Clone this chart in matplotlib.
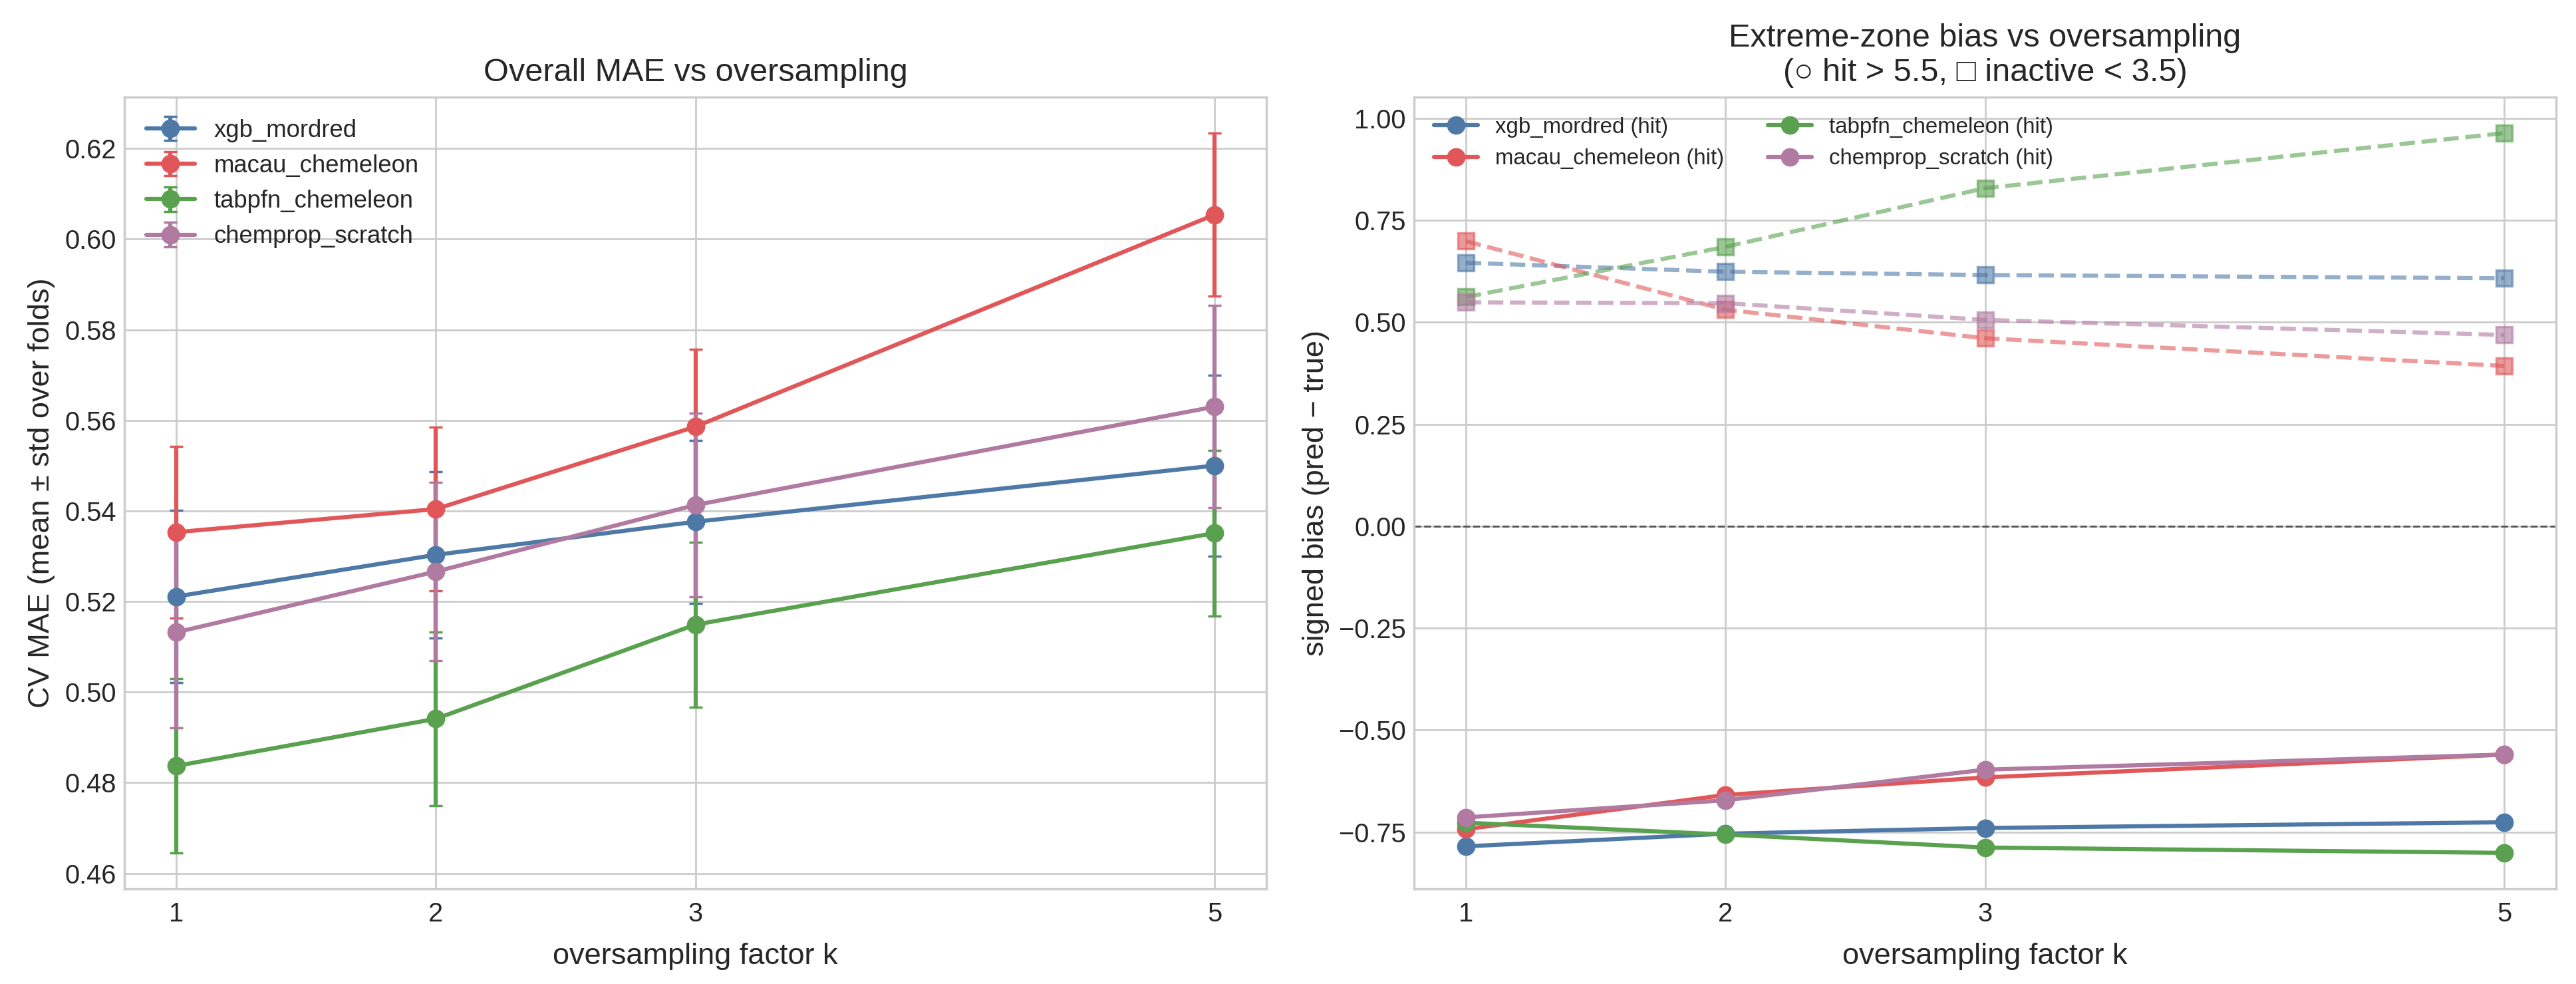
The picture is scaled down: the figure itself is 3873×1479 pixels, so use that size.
import matplotlib
matplotlib.use("Agg")
import matplotlib.pyplot as plt

plt.style.use("seaborn-v0_8-whitegrid")
plt.rcParams['font.family'] = ['Liberation Sans', 'DejaVu Sans']
plt.rcParams['xtick.major.pad'] = plt.rcParams['xtick.major.pad'] + 2

k_values = [1, 2, 3, 5]
models = ["xgb_mordred", "macau_chemeleon", "tabpfn_chemeleon", "chemprop_scratch"]
colors = ["#4E79A7", "#E15759", "#59A14F", "#B07AA1"]

mae_mean = {
    "xgb_mordred":      [0.5211, 0.5303, 0.5376, 0.5500],
    "macau_chemeleon":  [0.5353, 0.5404, 0.5586, 0.6054],
    "tabpfn_chemeleon": [0.4837, 0.4941, 0.5149, 0.5351],
    "chemprop_scratch": [0.5132, 0.5266, 0.5413, 0.5630],
}
mae_std = {
    "xgb_mordred":      [0.0190, 0.0183, 0.0180, 0.0200],
    "macau_chemeleon":  [0.0189, 0.0181, 0.0170, 0.0180],
    "tabpfn_chemeleon": [0.0192, 0.0192, 0.0182, 0.0183],
    "chemprop_scratch": [0.0211, 0.0197, 0.0202, 0.0223],
}
bias_hit = {
    "xgb_mordred":      [-0.785, -0.754, -0.740, -0.726],
    "macau_chemeleon":  [-0.743, -0.659, -0.616, -0.560],
    "tabpfn_chemeleon": [-0.727, -0.756, -0.788, -0.801],
    "chemprop_scratch": [-0.714, -0.672, -0.597, -0.560],
}
bias_inactive = {
    "xgb_mordred":      [0.646, 0.624, 0.616, 0.608],
    "macau_chemeleon":  [0.699, 0.531, 0.461, 0.393],
    "tabpfn_chemeleon": [0.562, 0.685, 0.829, 0.964],
    "chemprop_scratch": [0.549, 0.547, 0.506, 0.469],
}

fig, (ax1, ax2) = plt.subplots(1, 2, figsize=(15.492, 5.916), dpi=250)
fig.subplots_adjust(left=0.0483, right=0.9923, bottom=0.0967, top=0.9013, wspace=0.129)

for m, c in zip(models, colors):
    ax1.errorbar(k_values, mae_mean[m], yerr=mae_std[m], marker='o', color=c,
                 capsize=3, lw=1.8, ms=7, label=m)
ax1.set_xticks(k_values)
ax1.set_xlabel("oversampling factor k", fontsize=13, labelpad=7)
ax1.set_ylabel("CV MAE (mean ± std over folds)", fontsize=13)
ax1.set_title("Overall MAE vs oversampling", fontsize=14, pad=7)
ax1.legend(loc='upper left', fontsize=10.5)
ax1.tick_params(labelsize=11.5)

for m, c in zip(models, colors):
    ax2.plot(k_values, bias_hit[m], marker='o', color=c, lw=1.8, ms=7, label=f"{m} (hit)")
    ax2.plot(k_values, bias_inactive[m], marker='s', ls='--', color=c, lw=1.8, ms=7, alpha=0.6)
ax2.axhline(0, color='k', ls='--', lw=0.8, alpha=0.6)
ax2.set_xticks(k_values)
ax2.set_xlabel("oversampling factor k", fontsize=13, labelpad=7)
ax2.set_ylabel("signed bias (pred − true)", fontsize=13)
ax2.set_title("Extreme-zone bias vs oversampling\n(○ hit > 5.5, □ inactive < 3.5)", fontsize=14, pad=7)
ax2.legend(loc='upper left', fontsize=9.5, ncol=2)
ax2.tick_params(labelsize=11.5)

fig.savefig("out.png", dpi=250)
